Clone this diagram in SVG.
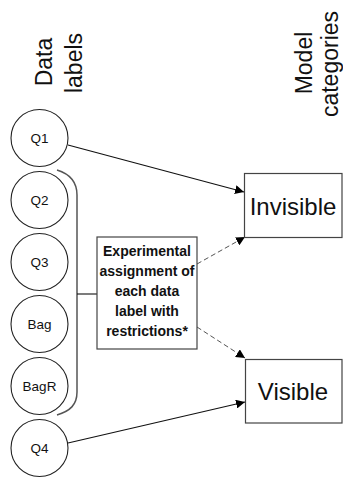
<svg xmlns="http://www.w3.org/2000/svg" width="343" height="478" viewBox="0 0 343 478">
<style>
.c{fill:#fff;stroke:#222;stroke-width:1.1}
.lbl{font-family:"Liberation Sans",Arial,sans-serif;font-size:13.5px;text-anchor:middle;fill:#111}
.hdr{font-family:"Liberation Sans",Arial,sans-serif;font-size:23px;text-anchor:middle;fill:#111}
.box{fill:#fff;stroke:#444;stroke-width:1.2}
.big{font-family:"Liberation Sans",Arial,sans-serif;font-size:24px;text-anchor:middle;fill:#111}
.bold{font-family:"Liberation Sans",Arial,sans-serif;font-size:14px;font-weight:bold;text-anchor:middle;fill:#111}
.ln{fill:none;stroke:#111;stroke-width:1.1}
.dash{fill:none;stroke:#555;stroke-width:1;stroke-dasharray:5,3}
.br{fill:none;stroke:#555;stroke-width:1.5}
</style>
<defs>
<marker id="ah" viewBox="0 0 10 10" refX="10" refY="5" markerWidth="9" markerHeight="9" markerUnits="userSpaceOnUse" orient="auto">
<path d="M0,0 L10,5 L0,10 Z" fill="#000"/>
</marker>
</defs>
<g id="headers">
<text class="hdr" transform="translate(52,62) rotate(-90)">Data</text>
<text class="hdr" transform="translate(82,63) rotate(-90)">labels</text>
<text class="hdr" transform="translate(312,63) rotate(-90)">Model</text>
<text class="hdr" transform="translate(338,64) rotate(-90)">categories</text>
</g>
<g id="connectors">
<path class="br" d="M57,170 C70,174 77,182 77,195 L77,392 C77,405 70,411 57,415"/>
<line class="ln" x1="77" y1="294" x2="97" y2="294"/>
<line class="ln" x1="68" y1="145" x2="244" y2="192" marker-end="url(#ah)"/>
<line class="ln" x1="68" y1="443" x2="245" y2="402" marker-end="url(#ah)"/>
<line class="dash" x1="197" y1="264" x2="245" y2="237" marker-end="url(#ah)"/>
<line class="dash" x1="197" y1="327" x2="245" y2="358" marker-end="url(#ah)"/>
</g>
<g id="q1"><circle class="c" cx="39.5" cy="138" r="28.5"/><text class="lbl" x="39.5" y="143">Q1</text></g>
<g id="q2"><circle class="c" cx="39.5" cy="200" r="28.5"/><text class="lbl" x="39.5" y="205">Q2</text></g>
<g id="q3"><circle class="c" cx="39.5" cy="262" r="28.5"/><text class="lbl" x="39.5" y="267">Q3</text></g>
<g id="bag"><circle class="c" cx="39.5" cy="324" r="28.5"/><text class="lbl" x="39.5" y="329">Bag</text></g>
<g id="bagr"><circle class="c" cx="39.5" cy="386" r="28.5"/><text class="lbl" x="39.5" y="391">BagR</text></g>
<g id="q4"><circle class="c" cx="39.5" cy="448" r="28.5"/><text class="lbl" x="39.5" y="453">Q4</text></g>
<g id="assign">
<rect class="box" x="97" y="237" width="100" height="112"/>
<text class="bold" x="147" y="256">Experimental</text>
<text class="bold" x="147" y="276">assignment of</text>
<text class="bold" x="147" y="296">each data</text>
<text class="bold" x="147" y="316">label with</text>
<text class="bold" x="147" y="336">restrictions*</text>
</g>
<g id="invisible">
<rect class="box" x="244.5" y="173.5" width="97.5" height="64"/>
<text class="big" x="293" y="215">Invisible</text>
</g>
<g id="visible">
<rect class="box" x="245.5" y="359.5" width="96.5" height="63.5"/>
<text class="big" x="293" y="400">Visible</text>
</g>
</svg>
